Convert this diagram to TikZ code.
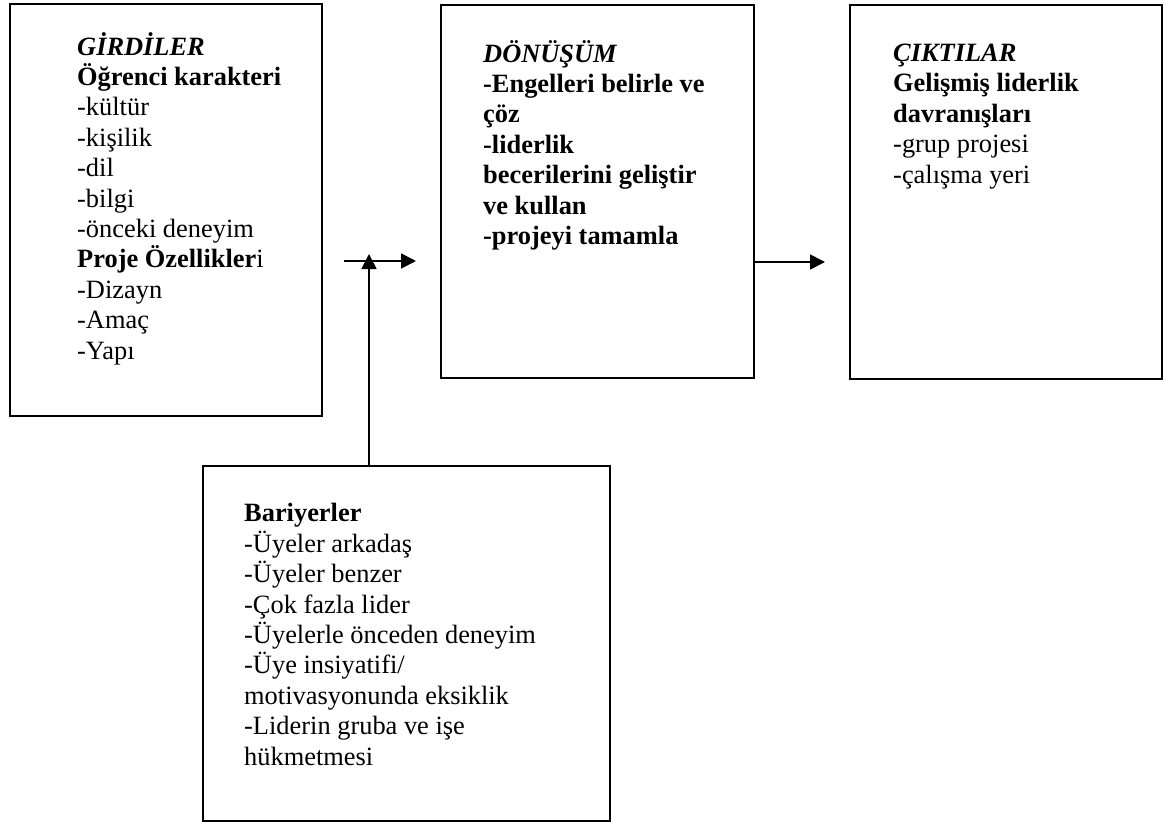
\documentclass[tikz,border=0pt]{standalone}
\usepackage{fontspec}
\setmainfont{Liberation Serif}
\usetikzlibrary{arrows.meta}
\begin{document}
\begin{tikzpicture}[x=1pt,y=-1pt,
  box/.style={draw=black,line width=1.7pt,inner sep=0pt,anchor=north west},
  txt/.style={anchor=base west,inner sep=0pt,align=left,font=\fontsize{26.4}{30.4}\selectfont},
  conn/.style={line width=1.7pt,-{Triangle[length=15pt,width=15pt]}}]
\useasboundingbox (0,0) rectangle (1165,822);
% boxes
\node[box,minimum width=312pt,minimum height=412pt] (in) at (9,3) {};
\node[box,minimum width=313pt,minimum height=373pt] (tr) at (440,4) {};
\node[box,minimum width=312pt,minimum height=374pt] (out) at (849,4) {};
\node[box,minimum width=407pt,minimum height=355pt] (bar) at (202,465) {};
% texts (anchored at the baseline of the last line)
\node[txt] (inT) at (77,359) {\textbf{\textit{GİRDİLER}}\\
\textbf{Öğrenci karakteri}\\
-kültür\\
-kişilik\\
-dil\\
-bilgi\\
-önceki deneyim\\
\textbf{Proje Özellikler}i\\
-Dizayn\\
-Amaç\\
-Yapı};
\node[txt] (trT) at (483,244.4) {\textbf{\textit{DÖNÜŞÜM}}\\
\textbf{-Engelleri belirle ve}\\
\textbf{çöz}\\
\textbf{-liderlik}\\
\textbf{becerilerini geliştir}\\
\textbf{ve kullan}\\
\textbf{-projeyi tamamla}};
\node[txt] (outT) at (893,183) {\textbf{\textit{ÇIKTILAR}}\\
\textbf{Gelişmiş liderlik}\\
\textbf{davranışları}\\
-grup projesi\\
-çalışma yeri};
\node[txt] (barT) at (244,765) {\textbf{Bariyerler}\\
-Üyeler arkadaş\\
-Üyeler benzer\\
-Çok fazla lider\\
-Üyelerle önceden deneyim\\
-Üye insiyatifi/\\
motivasyonunda eksiklik\\
-Liderin gruba ve işe\\
hükmetmesi};
% connectors
\coordinate (a1s) at (344,261);
\coordinate (a1e) at (416,261);
\coordinate (vtip) at (369,254);
\coordinate (a2e) at (825,262);
\draw[conn] (a1s) -- (a1e);
\draw[conn] (vtip |- bar.north) -- (vtip);
\draw[conn] (tr.east |- a2e) -- (a2e);
\end{tikzpicture}
\end{document}
